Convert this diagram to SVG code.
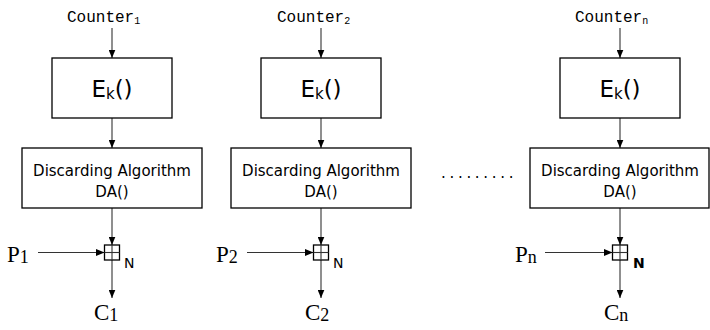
<svg xmlns="http://www.w3.org/2000/svg" width="710" height="330" viewBox="0 0 710 330">
  <style>
    .box { fill: #ffffff; stroke: #000000; stroke-width: 1.3; }
    .wire { fill: none; stroke: #333333; stroke-width: 1.1; }
    .arrow { fill: none; stroke: #333333; stroke-width: 1.1; marker-end: url(#head); }
    .mono { font-family: "Liberation Mono", "DejaVu Sans Mono", monospace; fill: #000000; }
    .serif { font-family: "Liberation Serif", "DejaVu Serif", serif; fill: #000000; }
    .sans { font-family: "DejaVu Sans", "Liberation Sans", sans-serif; fill: #000000; }
    .ctr { font-size: 16px; }
    .ctr-sub { font-size: 10px; }
    .ek { font-size: 23px; text-anchor: middle; }
    .da { font-size: 15px; text-anchor: middle; }
    .io { font-size: 23px; }
    .io-sub { font-size: 18px; }
    .n { font-size: 14px; }
  </style>
  <defs>
    <marker id="head" markerUnits="userSpaceOnUse" markerWidth="9" markerHeight="7" refX="8.5" refY="3.5" orient="auto">
      <path d="M0,0 L8.5,3.5 L0,7 Z" fill="#000000"/>
    </marker>
  </defs>

  <!-- connectors -->
  <g id="connectors">
    <!-- column 1 (x = 112) -->
    <line class="arrow" x1="112" y1="28" x2="112" y2="58"/>
    <line class="arrow" x1="112" y1="118" x2="112" y2="148"/>
    <line class="arrow" x1="112" y1="208" x2="112" y2="245"/>
    <line class="arrow" x1="38" y1="252.5" x2="104.5" y2="252.5"/>
    <line class="arrow" x1="112" y1="260" x2="112" y2="298"/>
    <!-- column 2 (x = 321) -->
    <line class="arrow" x1="321" y1="28" x2="321" y2="58"/>
    <line class="arrow" x1="321" y1="118" x2="321" y2="148"/>
    <line class="arrow" x1="321" y1="208" x2="321" y2="245"/>
    <line class="arrow" x1="247" y1="252.5" x2="313.5" y2="252.5"/>
    <line class="arrow" x1="321" y1="260" x2="321" y2="298"/>
    <!-- column n (x = 620) -->
    <line class="arrow" x1="620" y1="28" x2="620" y2="58"/>
    <line class="arrow" x1="620" y1="118" x2="620" y2="148"/>
    <line class="arrow" x1="620" y1="208" x2="620" y2="245"/>
    <line class="arrow" x1="545" y1="252.5" x2="612.5" y2="252.5"/>
    <line class="arrow" x1="620" y1="260" x2="620" y2="298"/>
  </g>

  <!-- column 1 -->
  <g id="counter1"><text class="mono ctr" x="67" y="22">Counter<tspan class="ctr-sub" dy="2">1</tspan></text></g>
  <g id="ek1">
    <rect class="box" x="52" y="58" width="120" height="60"/>
    <text class="sans ek" x="112" y="97">E<tspan font-size="15" dy="2">k</tspan><tspan dy="-2">()</tspan></text>
  </g>
  <g id="da1">
    <rect class="box" x="22" y="148" width="180" height="60"/>
    <text class="sans da" x="112" y="176">Discarding Algorithm</text>
    <text class="sans da" x="112" y="197">DA()</text>
  </g>
  <g id="add1">
    <rect class="box" x="104.5" y="245" width="15" height="15"/>
    <line class="wire" x1="112" y1="245" x2="112" y2="260"/>
    <line class="wire" x1="104.5" y1="252.5" x2="119.5" y2="252.5"/>
    <text class="sans n" x="124" y="268">N</text>
  </g>
  <g id="p1"><text class="serif io" x="7" y="262">P<tspan class="io-sub" dy="1">1</tspan></text></g>
  <g id="c1"><text class="serif io" x="94" y="320">C<tspan class="io-sub" dy="1">1</tspan></text></g>

  <!-- column 2 -->
  <g id="counter2"><text class="mono ctr" x="277" y="22">Counter<tspan class="ctr-sub" dy="2">2</tspan></text></g>
  <g id="ek2">
    <rect class="box" x="261" y="58" width="120" height="60"/>
    <text class="sans ek" x="321" y="97">E<tspan font-size="15" dy="2">k</tspan><tspan dy="-2">()</tspan></text>
  </g>
  <g id="da2">
    <rect class="box" x="231" y="148" width="180" height="60"/>
    <text class="sans da" x="321" y="176">Discarding Algorithm</text>
    <text class="sans da" x="321" y="197">DA()</text>
  </g>
  <g id="add2">
    <rect class="box" x="313.5" y="245" width="15" height="15"/>
    <line class="wire" x1="321" y1="245" x2="321" y2="260"/>
    <line class="wire" x1="313.5" y1="252.5" x2="328.5" y2="252.5"/>
    <text class="sans n" x="333" y="268">N</text>
  </g>
  <g id="p2"><text class="serif io" x="216" y="262">P<tspan class="io-sub" dy="1">2</tspan></text></g>
  <g id="c2"><text class="serif io" x="305" y="320">C<tspan class="io-sub" dy="1">2</tspan></text></g>

  <!-- gap between column 2 and column n -->
  <g id="ellipsis"><text class="sans" x="441" y="178" font-size="15" letter-spacing="3.7">.........</text></g>

  <!-- column n -->
  <g id="countern"><text class="mono ctr" x="575" y="22">Counter<tspan class="ctr-sub" dy="2">n</tspan></text></g>
  <g id="ekn">
    <rect class="box" x="560" y="58" width="120" height="60"/>
    <text class="sans ek" x="620" y="97">E<tspan font-size="15" dy="2">k</tspan><tspan dy="-2">()</tspan></text>
  </g>
  <g id="dan">
    <rect class="box" x="530" y="148" width="179" height="60"/>
    <text class="sans da" x="620" y="176">Discarding Algorithm</text>
    <text class="sans da" x="620" y="197">DA()</text>
  </g>
  <g id="addn">
    <rect class="box" x="612.5" y="245" width="15" height="15"/>
    <line class="wire" x1="620" y1="245" x2="620" y2="260"/>
    <line class="wire" x1="612.5" y1="252.5" x2="627.5" y2="252.5"/>
    <text class="sans n" x="633" y="268" font-weight="bold">N</text>
  </g>
  <g id="pn"><text class="serif io" x="515" y="262">P<tspan class="io-sub" dy="1">n</tspan></text></g>
  <g id="cn"><text class="serif io" x="604" y="320">C<tspan class="io-sub" dy="1">n</tspan></text></g>
</svg>
